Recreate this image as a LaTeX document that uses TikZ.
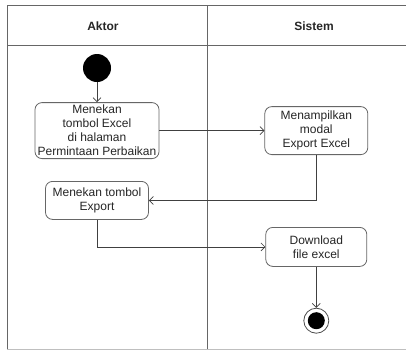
\documentclass[tikz,border=0pt]{standalone}
\usepackage{fontspec}
\setmainfont{Liberation Sans}
\usetikzlibrary{positioning,arrows.meta}

\begin{document}
\begin{tikzpicture}[x=1pt, y=-1pt, >={Straight Barb[length=4pt,width=8pt]}, font=\fontsize{12}{14}\selectfont, node distance=20pt]
\tikzstyle{lane}=[draw=black!60, line width=0.9pt]
\tikzstyle{activity}=[draw=black!60, rounded corners=7pt, fill=white, align=center, inner sep=1pt, line width=0.8pt, text=black!85]
\tikzstyle{initial}=[circle, fill=black, minimum size=28pt, inner sep=0pt]
\tikzstyle{final}=[circle, draw=black!70, line width=0.8pt, minimum size=25pt, inner sep=0pt,
  path picture={\fill[black] (path picture bounding box.center) circle (8.5pt);}]
\tikzstyle{flow}=[->, draw=black!75, line width=0.7pt]
\useasboundingbox (0,0) rectangle (406,351);

% swimlanes
\draw[lane] (7,349) -- (7,5) -- (410,5);
\draw[lane] (7,45) -- (410,45);
\draw[lane] (207,5) -- (207,349);
\draw[draw=black!25] (7,349) -- (410,349);
\node[font=\fontsize{12}{14}\selectfont\bfseries, text=black!85] (aktor) at (103,26) {Aktor};
\node[font=\fontsize{12}{14}\selectfont\bfseries, text=black!85] (sistem) at (314,26) {Sistem};

% Aktor
\node[initial] (mulai) at (97,68) {};
\node[activity, minimum width=124pt, minimum height=56pt] (excel) [below=20pt of mulai] {Menekan\\tombol Excel\\di halaman\\Permintaan Perbaikan};
\node[activity, minimum width=103pt, minimum height=38pt] (export) [below=22pt of excel] {Menekan tombol\\Export};

% Sistem
\node[activity, minimum width=103pt, minimum height=48pt] (modal) [right=105pt of excel] {Menampilkan\\modal\\Export Excel};
\node[activity, minimum width=101pt, minimum height=39pt] (unduh) [below=72pt of modal] {Download\\file excel};
\node[final] (selesai) [below=41pt of unduh] {};

\draw[flow] (mulai) -- (excel);
\draw[flow] (excel) -- (modal);
\draw[flow] (modal.south) |- (export.east);
\draw[flow] (export.south) |- (unduh.west);
\draw[flow] (unduh) -- (selesai);
\end{tikzpicture}
\end{document}
